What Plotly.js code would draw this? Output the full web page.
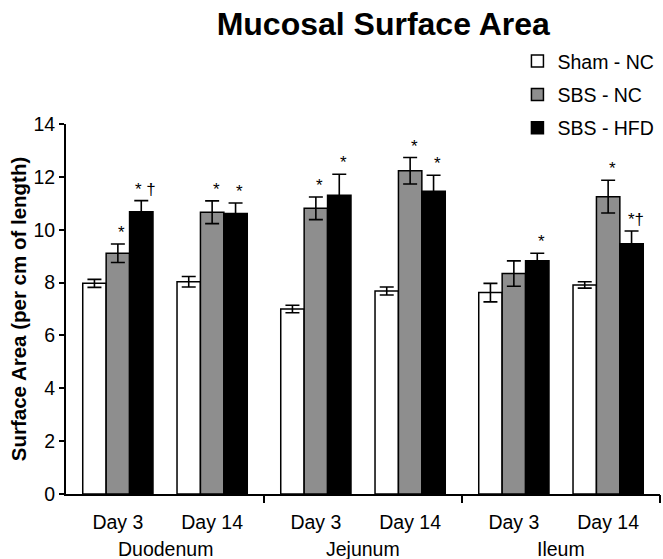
<!DOCTYPE html>
<html>
<head>
<meta charset="utf-8">
<script src="https://cdn.plot.ly/plotly-3.0.1.min.js"></script>
<style>html,body{margin:0;padding:0;background:#fff;}#chart{width:663px;height:559px;}</style>
</head>
<body>
<div id="chart"></div>
<script>
// ---- data ----
const organs = ["Duodenum", "Jejunum", "Ileum"];
const days = ["Day 3", "Day 14", "Day 3", "Day 14", "Day 3", "Day 14"];
const organOfGroup = [0, 0, 1, 1, 2, 2];
const seriesNames = ["Sham - NC", "SBS - NC", "SBS - HFD"];
const shamNC   = [7.97, 8.03, 7.00, 7.68, 7.62, 7.91];
const shamNCe  = [0.15, 0.20, 0.14, 0.15, 0.35, 0.12];
const sbsNC    = [9.11, 10.66, 10.81, 12.23, 8.34, 11.25];
const sbsNCe   = [0.35, 0.43, 0.43, 0.50, 0.48, 0.62];
const sbsHFD   = [10.68, 10.61, 11.30, 11.46, 8.83, 9.47];
const sbsHFDe  = [0.42, 0.40, 0.80, 0.60, 0.28, 0.48];
const shamMarks   = ["", "", "", "", "", ""];
const sbsNCMarks  = ["*", "*", "*", "*", "", "*"];
const sbsHFDMarks = ["* †", "*", "*", "*", "*", "*†"];

// ---- layout helpers ----
const organGap = 0.1;
const pos = days.map((d, i) => i + organGap * organOfGroup[i]);
const groupFrac = 0.745;
const barW = groupFrac / 3;
const FONT = "Liberation Sans, Arial, Helvetica, sans-serif";

const vals = [shamNC, sbsNC, sbsHFD];
const errs = [shamNCe, sbsNCe, sbsHFDe];
const marks = [shamMarks, sbsNCMarks, sbsHFDMarks];
const colors = ["#ffffff", "#8e8e8e", "#000000"];

const traces = vals.map((v, k) => ({
  type: "bar",
  name: seriesNames[k],
  legendgroup: "g" + k,
  x: pos,
  y: v,
  marker: { color: colors[k], line: { color: "#000", width: 1.5 } },
  error_y: { type: "data", array: errs[k], visible: true, color: "#000", thickness: 1.6, width: 7 },
  hoverinfo: "none"
}));

const organStarts = [];
const organEnds = [];
organs.forEach((o, j) => {
  const idx = pos.filter((p, i) => organOfGroup[i] === j);
  organStarts.push(Math.min(...idx));
  organEnds.push(Math.max(...idx));
});
const xmin = pos[0] - 0.55;
const xmax = pos[pos.length - 1] + 0.55;
const dividers = organEnds.map((e, j) => j < organs.length - 1 ? (e + organStarts[j + 1]) / 2 : xmax);

traces.push({
  type: "scatter", x: [xmin, xmax], y: [0, 0], xaxis: "x2", mode: "none",
  showlegend: false, hoverinfo: "none"
});

const annotations = [];
marks.forEach((m, k) => {
  m.forEach((t, i) => {
    if (!t) return;
    annotations.push({
      x: pos[i] + (k - 1) * barW, y: vals[k][i] + errs[k][i],
      xref: "x", yref: "y", text: t, showarrow: false,
      yanchor: "bottom", xanchor: "center", xshift: 4, yshift: 0,
      font: { family: FONT, size: 17, color: "#000" }
    });
  });
});
organs.forEach((o, j) => {
  annotations.push({
    x: (organStarts[j] + organEnds[j]) / 2, y: -0.149,
    xref: "x", yref: "paper", text: o, showarrow: false,
    xanchor: "center", yanchor: "middle",
    font: { family: FONT, size: 19.5, color: "#000" }
  });
});

const layout = {
  width: 663, height: 559,
  margin: { l: 66, r: 3, t: 124, b: 65 },
  paper_bgcolor: "#fff", plot_bgcolor: "#fff",
  font: { family: FONT, size: 19.5, color: "#000" },
  title: {
    text: "<b>Mucosal Surface Area</b>",
    font: { family: FONT, size: 32, color: "#000" },
    x: 0.578, xref: "container", xanchor: "center",
    y: 0.957, yref: "container", yanchor: "middle"
  },
  barmode: "group",
  bargap: 1 - groupFrac,
  bargroupgap: 0,
  showlegend: true,
  legend: {
    x: 0.76, xanchor: "left", y: 1.222, yanchor: "top",
    font: { family: FONT, size: 19.5, color: "#000" },
    tracegroupgap: 5, bgcolor: "rgba(0,0,0,0)"
  },
  xaxis: {
    range: [xmin, xmax],
    tickmode: "array", tickvals: pos, ticktext: days,
    ticks: "", showline: true, linecolor: "#000", linewidth: 2,
    showgrid: false, zeroline: false, ticklabelstandoff: 10,
    tickfont: { family: FONT, size: 19.5, color: "#000" }
  },
  xaxis2: {
    overlaying: "x", matches: "x", side: "bottom",
    tickmode: "array", tickvals: dividers, ticks: "outside", ticklen: 8,
    tickwidth: 2, tickcolor: "#000", showticklabels: false,
    showline: false, showgrid: false, zeroline: false
  },
  yaxis: {
    range: [0, 14], tickmode: "array", tickvals: [0, 2, 4, 6, 8, 10, 12, 14],
    ticks: "outside", ticklen: 5, tickwidth: 2, tickcolor: "#000",
    showline: true, linecolor: "#000", linewidth: 2,
    showgrid: false, zeroline: false,
    tickfont: { family: FONT, size: 19.5, color: "#000" },
    title: { text: "<b>Surface Area (per cm of length)</b>", font: { family: FONT, size: 20.5, color: "#000" }, standoff: 1 }
  },
  annotations: annotations
};

Plotly.newPlot("chart", traces, layout, { staticPlot: true, displayModeBar: false });
</script>
</body>
</html>
